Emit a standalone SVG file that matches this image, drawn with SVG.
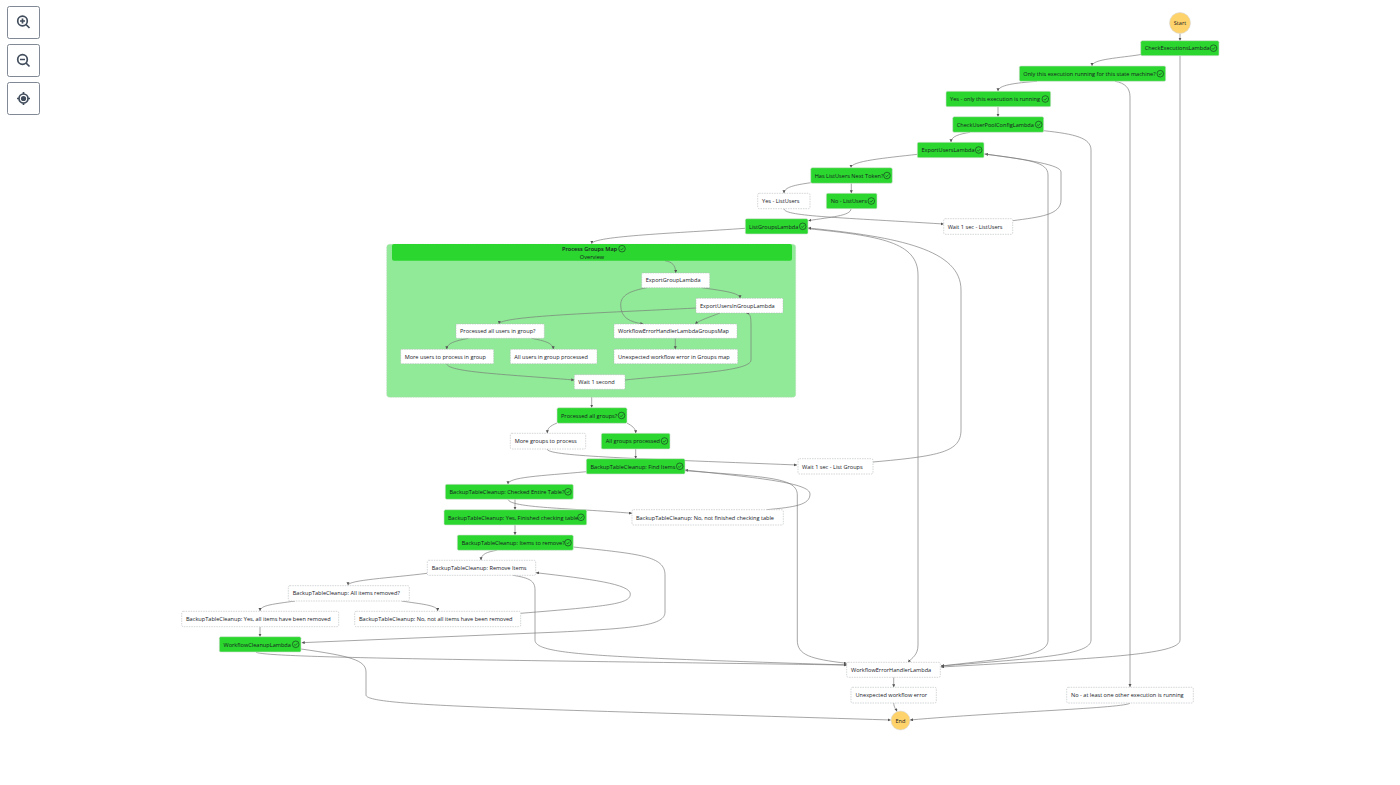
<svg xmlns="http://www.w3.org/2000/svg" width="1400" height="785" viewBox="0 0 1400 785">
<style>
text{font-family:"Open Sans","Liberation Sans",sans-serif;font-size:5.6px;fill:#16191f}
.g{fill:#2bd62f;stroke:#d5ddd5;stroke-width:.6}
.w{fill:#fff;stroke:#b5b9bd;stroke-width:.6;stroke-dasharray:1.5 1}
.s{fill:#ffd36b;stroke:#d8d8d8;stroke-width:.6}
.c{fill:none;stroke:#777;stroke-width:.65;marker-end:url(#a)}
.i{fill:none;stroke:#16191f;stroke-width:.55}
.b{fill:#fff;stroke:#5f6b7a;stroke-width:.8}
.ic{fill:none;stroke:#414d5c;stroke-width:1.7}
</style>
<defs>
<marker id="a" markerUnits="userSpaceOnUse" markerWidth="4" markerHeight="4" refX="3" refY="1.5" orient="auto"><path d="M0 0L3 1.5L0 3Z" fill="#555"/></marker>
<g id="k"><circle class="i" r="3.3"/><path class="i" d="M-1.5 .1L-.4 1.2L1.6 -1"/></g>
</defs>
<rect width="1400" height="785" fill="#fff"/>
<g id="controls">
<rect class="b" x="7.5" y="6.5" width="32" height="32" rx="2"/>
<circle class="ic" cx="22.5" cy="21" r="4.8"/><path class="ic" d="M26 24.5L29.5 28M20 21H25M22.5 18.5V23.5"/>
<rect class="b" x="7.5" y="44.5" width="32" height="32" rx="2"/>
<circle class="ic" cx="22.5" cy="59.500" r="4.8"/><path class="ic" d="M26 63L29.500 66.500M20 59.500H25"/>
<rect class="b" x="7.500" y="82.500" width="32" height="32" rx="2"/>
<circle class="ic" cx="23.500" cy="98.500" r="4.500"/><circle cx="23.500" cy="98.500" r="2.600" fill="#414d5c"/><path class="ic" stroke-width="1.200" d="M23.500 92V94M23.500 103V105M17 98.500H19M28 98.500H30"/>
</g>
<g id="map-frame">
<rect x="386.700" y="244.300" width="409" height="153" rx="3" fill="#90ea97" stroke="#c4d8c4" stroke-width=".6" stroke-dasharray="1.500 1"/>
</g>
<g id="connectors">
<path class="c" d="M1180 33.500V40.700"/>
<path class="c" d="M1141 54.500C1120 58 1092 59 1092 66"/>
<path class="c" d="M1037 81.300C1015 83 998 85 998 91.300"/>
<path class="c" d="M998 106.700V116.700"/>
<path class="c" d="M970 132.300C960 134 951 136 951 142.300"/>
<path class="c" d="M917.700 154.300C885 158 851 161 851 167.700"/>
<path class="c" d="M810.700 182.700C795 185 784 187 784 193.300"/>
<path class="c" d="M851.300 183.300V193.300"/>
<path class="c" d="M851 208.700C851 216 830 217 808.300 220.700"/>
<path class="c" d="M784 208.700C784 216 830 217 943.700 224"/>
<path class="c" d="M1012.700 220.700C1040 217 1061 215 1061 200V172C1061 165 1030 160 985 154"/>
<path class="c" d="M1180 55.700V640C1180 655 1100 658 941 667"/>
<path class="c" d="M1115 81.300C1125 83 1130 88 1130 97V687"/>
<path class="c" d="M1043.700 130.700C1075 134 1091 138 1091 150V640C1091 655 1040 658 941 666"/>
<path class="c" d="M984 154C1030 160 1048 162 1048 175V640C1048 655 1020 657 941 666"/>
<path class="c" d="M808 228.700C880 236 918 242 918 275V645C918 655 912 658 908 662.300"/>
<path class="c" d="M873 462C940 456 961 452 961 430V290C961 250 900 237 808 228"/>
<path class="c" d="M745 228.300C680 233 592 236 591.700 243.800"/>
<path class="c" d="M665 260.700C672 262 675.700 265 675.700 273"/>
<path class="c" d="M701.700 287.700C725 291 740 293 740 298.300"/>
<path class="c" d="M646.700 287.700C630 291 620.700 295 620.700 305C620.700 318 630 322 643.300 324"/>
<path class="c" d="M720 313C710 317 700 320 695 324"/>
<path class="c" d="M696.700 308C600 313 500 316 499 324"/>
<path class="c" d="M468.300 338.300C455 341 447 343 446.700 349.300"/>
<path class="c" d="M531.700 338.300C545 341 553 343 553.300 349.300"/>
<path class="c" d="M675.300 338.300V349.300"/>
<path class="c" d="M446.700 363.700C448 372 500 374 574.300 380"/>
<path class="c" d="M625 380C680 374 751 372 751 360V325C751 316 750 313 746 313"/>
<path class="c" d="M591.700 397.300V407.700"/>
<path class="c" d="M557 423C550 426 547.300 428 547.300 433.300"/>
<path class="c" d="M627 423C632 426 635.700 428 635.700 433.300"/>
<path class="c" d="M547 449C548 456 620 458 797 465"/>
<path class="c" d="M635.700 449V458.700"/>
<path class="c" d="M586.300 471.700C540 476 508 477 508 484.300"/>
<path class="c" d="M515 499.300V509.700"/>
<path class="c" d="M508 499.300C510 508 570 508 632 513.300"/>
<path class="c" d="M766.700 509.700C795 507 810 505 810 494C810 483 760 478 685 470"/>
<path class="c" d="M685 470.700C770 477 797.300 478 797.300 495V640C797.300 655 810 659 846.700 663.300"/>
<path class="c" d="M515 525V535"/>
<path class="c" d="M496.700 550.300C487 552 481 554 481 560.300"/>
<path class="c" d="M573.300 547C640 554 665 556 665 575V612C665 625 640 628 560 632L301.700 642.700"/>
<path class="c" d="M427.300 573.300C390 578 348 580 348 585.300"/>
<path class="c" d="M295 601C275 604 260 605 260 611"/>
<path class="c" d="M401.700 601C420 604 437.700 605 437.700 611"/>
<path class="c" d="M520.700 613.300C610 606 630.300 604 630.300 594C630.300 584 590 579 536 572.700"/>
<path class="c" d="M513 575.300C530 578 535 581 535 590V640C535 655 600 657 846.700 665"/>
<path class="c" d="M260 626.700V636.700"/>
<path class="c" d="M256 652C258 658 500 660 846.700 665"/>
<path class="c" d="M301 649C350 656 366 660 366 672V695C366 706 500 708 890.700 720"/>
<path class="c" d="M893.700 677.300V687.300"/>
<path class="c" d="M893.700 703C894 708 896 709 897 711.500"/>
<path class="c" d="M1130 703C1128 708 1000 712 910 720"/>
</g>
<g id="n1"><circle class="s" cx="1180" cy="23" r="10.500"/><text x="1180" y="25" text-anchor="middle">Start</text></g>
<g id="n2"><rect class="g" x="1140.700" y="40.700" width="78.300" height="15" rx="1.500"/><text x="1144.700" y="50">CheckExecutionsLambda</text><use href="#k" x="1213.500" y="48.200"/></g>
<g id="n3"><rect class="g" x="1019.300" y="66" width="146.400" height="15.300" rx="1.500"/><text x="1023.300" y="75.500">Only this execution running for this state machine?</text><use href="#k" x="1160.300" y="73.700"/></g>
<g id="n4"><rect class="g" x="946" y="91.300" width="104.700" height="15.400" rx="1.500"/><text x="950" y="101">Yes - only this execution is running</text><use href="#k" x="1045.300" y="99"/></g>
<g id="n5"><rect class="g" x="952.700" y="116.700" width="91" height="15.600" rx="1.500"/><text x="956.700" y="126.500">CheckUserPoolConfigLambda</text><use href="#k" x="1038.700" y="124.500"/></g>
<g id="n6"><rect class="g" x="917.300" y="142.300" width="66.700" height="15.400" rx="1.500"/><text x="921.500" y="152">ExportUsersLambda</text><use href="#k" x="978.700" y="150"/></g>
<g id="n7"><rect class="g" x="810.700" y="167.700" width="81.600" height="15.600" rx="1.500"/><text x="814.700" y="177.500">Has ListUsers Next Token?</text><use href="#k" x="887" y="175.500"/></g>
<g id="n8"><rect class="w" x="757.700" y="193.300" width="52.300" height="15.400" rx="1.500"/><text x="762" y="203">Yes - ListUsers</text></g>
<g id="n9"><rect class="g" x="826.300" y="193.300" width="50.700" height="15.400" rx="1.500"/><text x="830.700" y="203">No - ListUsers</text><use href="#k" x="871.300" y="201"/></g>
<g id="n10"><rect class="g" x="745.300" y="218.700" width="62.700" height="15.300" rx="1.500"/><text x="749" y="228.500">ListGroupsLambda</text><use href="#k" x="802.700" y="226.300"/></g>
<g id="n11"><rect class="w" x="943.700" y="218.700" width="69" height="15.600" rx="1.500"/><text x="947.700" y="228.700">Wait 1 sec - ListUsers</text></g>
<g id="n12"><rect x="392" y="244" width="400" height="16.700" rx="2" fill="#2bd62f"/><text x="562" y="250.500" font-weight="600" style="font-weight:600">Process Groups Map</text><use href="#k" x="622" y="248.700"/><text x="592" y="259" text-anchor="middle">Overview</text></g>
<g id="n13"><rect class="w" x="641.700" y="273" width="68" height="14.700" rx="1"/><text x="645.700" y="282.300">ExportGroupLambda</text></g>
<g id="n14"><rect class="w" x="696" y="298.300" width="87" height="14.700" rx="1"/><text x="700" y="307.700">ExportUsersInGroupLambda</text></g>
<g id="n15"><rect class="w" x="456" y="324" width="88.300" height="14.300" rx="1"/><text x="460" y="333.300">Processed all users in group?</text></g>
<g id="n16"><rect class="w" x="614" y="324" width="123" height="14.300" rx="1"/><text x="618" y="333.300">WorkflowErrorHandlerLambdaGroupsMap</text></g>
<g id="n17"><rect class="w" x="400.700" y="349.300" width="93" height="14.400" rx="1"/><text x="404.700" y="358.700">More users to process in group</text></g>
<g id="n18"><rect class="w" x="510.300" y="349.300" width="86.700" height="14.400" rx="1"/><text x="514.300" y="358.700">All users in group processed</text></g>
<g id="n19"><rect class="w" x="614" y="349.300" width="123.700" height="14.400" rx="1"/><text x="618" y="358.700">Unexpected workflow error in Groups map</text></g>
<g id="n20"><rect class="w" x="574.300" y="374.700" width="50.700" height="14.600" rx="1"/><text x="578.300" y="384">Wait 1 second</text></g>
<g id="n21"><rect class="g" x="557" y="407.700" width="70" height="15.600" rx="1.500"/><text x="561" y="417.500">Processed all groups?</text><use href="#k" x="621.500" y="415.500"/></g>
<g id="n22"><rect class="w" x="510.300" y="433.300" width="75.400" height="15.700" rx="1.500"/><text x="514.700" y="443">More groups to process</text></g>
<g id="n23"><rect class="g" x="601.300" y="433.300" width="68.700" height="15.700" rx="1.500"/><text x="605.700" y="443">All groups processed</text><use href="#k" x="664.500" y="441"/></g>
<g id="n24"><rect class="g" x="586.300" y="458.700" width="98.700" height="15.300" rx="1.500"/><text x="590.500" y="468.500">BackupTableCleanup: Find Items</text><use href="#k" x="679.700" y="466.300"/></g>
<g id="n25"><rect class="w" x="798" y="458.700" width="75" height="15.300" rx="1.500"/><text x="802" y="468.500">Wait 1 sec - List Groups</text></g>
<g id="n26"><rect class="g" x="445.300" y="484.300" width="128" height="15" rx="1.500"/><text x="449.500" y="493.700">BackupTableCleanup: Checked Entire Table?</text><use href="#k" x="568" y="491.800"/></g>
<g id="n27"><rect class="g" x="444" y="509.700" width="142.700" height="15.300" rx="1.500"/><text x="448" y="519.500">BackupTableCleanup: Yes, Finished checking table</text><use href="#k" x="581" y="517.300"/></g>
<g id="n28"><rect class="w" x="632" y="509.700" width="151.300" height="15.300" rx="1.500"/><text x="636" y="519.500">BackupTableCleanup: No, not finished checking table</text></g>
<g id="n29"><rect class="g" x="457.300" y="535" width="116" height="15.300" rx="1.500"/><text x="461.700" y="544.700">BackupTableCleanup: Items to remove?</text><use href="#k" x="568" y="542.700"/></g>
<g id="n30"><rect class="w" x="427.300" y="560.300" width="108.400" height="15" rx="1.500"/><text x="431.700" y="570">BackupTableCleanup: Remove Items</text></g>
<g id="n31"><rect class="w" x="288.300" y="585.700" width="121" height="15.300" rx="1.500"/><text x="292.700" y="595.300">BackupTableCleanup: All items removed?</text></g>
<g id="n32"><rect class="w" x="181.700" y="611.300" width="157" height="15.400" rx="1.500"/><text x="186" y="621">BackupTableCleanup: Yes, all items have been removed</text></g>
<g id="n33"><rect class="w" x="354.700" y="611.300" width="166" height="15.400" rx="1.500"/><text x="359" y="621">BackupTableCleanup: No, not all items have been removed</text></g>
<g id="n34"><rect class="g" x="219.300" y="636.700" width="81.700" height="15.300" rx="1.500"/><text x="223.500" y="646.500">WorkflowCleanupLambda</text><use href="#k" x="295.700" y="644.300"/></g>
<g id="n35"><rect class="w" x="846.700" y="662.300" width="93.600" height="15" rx="1.500"/><text x="851" y="672">WorkflowErrorHandlerLambda</text></g>
<g id="n36"><rect class="w" x="851" y="687.300" width="85.300" height="15.700" rx="1.500"/><text x="855.500" y="697">Unexpected workflow error</text></g>
<g id="n37"><rect class="w" x="1066.700" y="687.300" width="126.600" height="15.700" rx="1.500"/><text x="1071" y="697">No - at least one other execution is running</text></g>
<g id="n38"><circle class="s" cx="900.500" cy="720.500" r="9.500"/><text x="900.500" y="722.500" text-anchor="middle">End</text></g>
</svg>
